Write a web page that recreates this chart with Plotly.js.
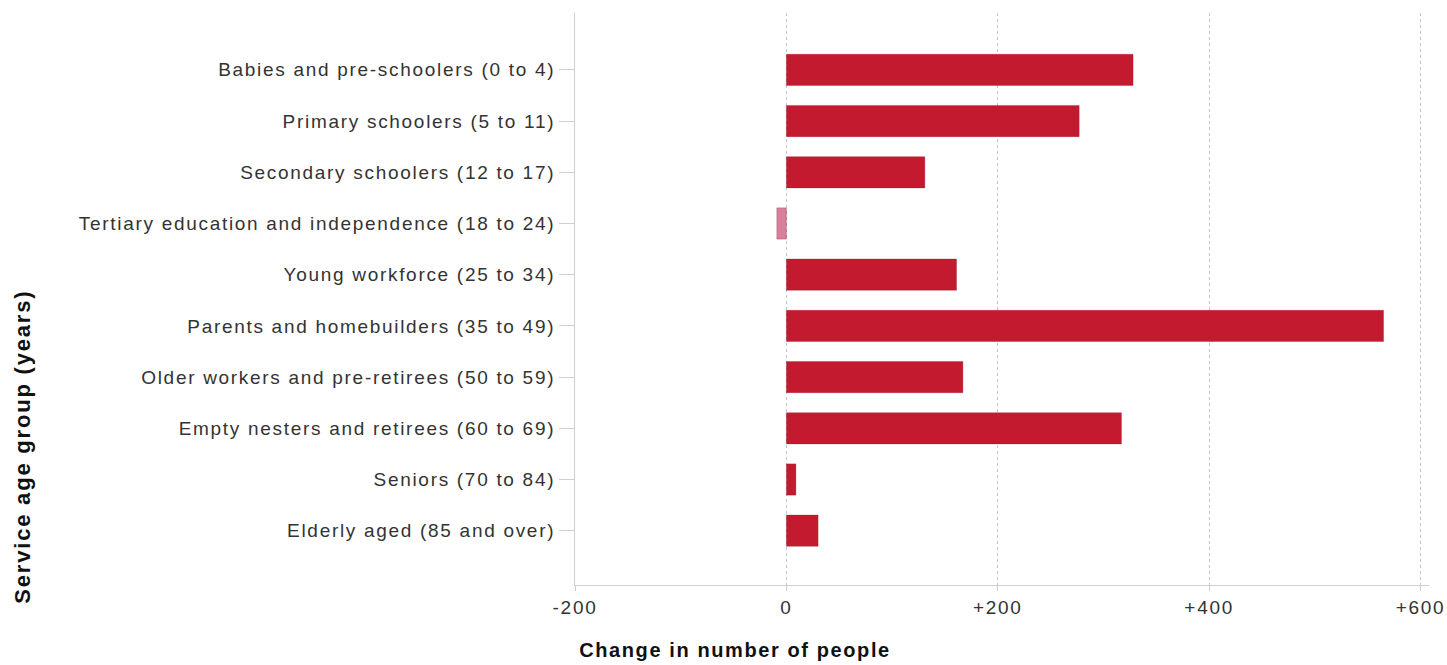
<!DOCTYPE html>
<html>
<head>
<meta charset="utf-8">
<script src="https://cdn.plot.ly/plotly-3.0.1.min.js"></script>
<style>
  html, body { margin: 0; padding: 0; background: #ffffff; }
  #chart { width: 1447px; height: 665px; }
  .ytick text, .xtick text { letter-spacing: 1.7px; }
  g.annotation[data-index="0"] text { letter-spacing: 1.6px; }
  g.annotation[data-index="1"] text { letter-spacing: 1.8px; }
</style>
</head>
<body>
<div id="chart"></div>
<script>
// Data
const categories = [
  "Babies and pre-schoolers (0 to 4)",
  "Primary schoolers (5 to 11)",
  "Secondary schoolers (12 to 17)",
  "Tertiary education and independence (18 to 24)",
  "Young workforce (25 to 34)",
  "Parents and homebuilders (35 to 49)",
  "Older workers and pre-retirees (50 to 59)",
  "Empty nesters and retirees (60 to 69)",
  "Seniors (70 to 84)",
  "Elderly aged (85 and over)"
];
const changeValues = [328, 277, 131, -9, 161, 565, 167, 317, 9, 30];
const xTickValues = [-200, 0, 200, 400, 600];
const xTickLabels = ["-200", "0", "+200", "+400", "+600"];
const xTitle = "Change in number of people";
const yTitle = "Service age group (years)";

const POS = "#C41A2F";
const NEG = "#D87F9C";
const barColors = changeValues.map(v => v < 0 ? NEG : POS);

const trace = {
  type: "bar",
  orientation: "h",
  y: categories,
  x: changeValues,
  width: 0.61,
  marker: { color: barColors, line: { color: "rgba(140,20,35,0.5)", width: 0.6 } },
  hoverinfo: "x+y"
};

const tickFont = { family: "Liberation Sans, Arial, sans-serif", size: 19, color: "#333333" };

const layout = {
  width: 1447,
  height: 665,
  margin: { l: 575, r: 18, t: 13, b: 80 },
  paper_bgcolor: "#ffffff",
  plot_bgcolor: "#ffffff",
  showlegend: false,
  xaxis: {
    range: [-200, 608],
    tickvals: xTickValues,
    ticktext: xTickLabels,
    tickfont: tickFont,
    showgrid: true,
    gridcolor: "#c4c4c4",
    griddash: "dot",
    gridwidth: 1,
    zeroline: false,
    showline: true,
    linecolor: "#cfcfcf",
    linewidth: 1,
    ticks: "outside",
    ticklen: 5,
    tickcolor: "#cfcfcf",
    fixedrange: true
  },
  yaxis: {
    type: "category",
    range: [10.06, -1.11],
    tickfont: tickFont,
    showgrid: false,
    zeroline: false,
    showline: true,
    linecolor: "#cfcfcf",
    linewidth: 1,
    ticks: "outside",
    ticklen: 15,
    tickcolor: "#cfcfcf",
    fixedrange: true
  },
  annotations: [
    {
      text: xTitle,
      xref: "paper", yref: "paper",
      x: 0.027, y: -0.114,
      xanchor: "left", yanchor: "middle",
      showarrow: false,
      font: { family: "Liberation Sans, Arial, sans-serif", size: 20, color: "#111111", weight: "bold" }
    },
    {
      text: yTitle,
      xref: "paper", yref: "paper",
      x: -0.6475, y: 0.241,
      xanchor: "center", yanchor: "middle",
      textangle: -90,
      showarrow: false,
      font: { family: "Liberation Sans, Arial, sans-serif", size: 22, color: "#111111", weight: "bold" }
    }
  ]
};

Plotly.newPlot("chart", [trace], layout, { displayModeBar: false, staticPlot: true });
</script>
</body>
</html>
